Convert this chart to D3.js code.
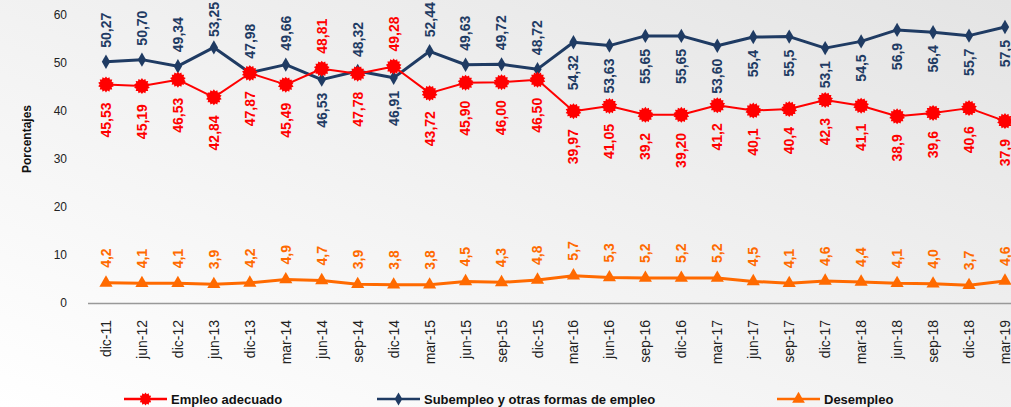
<!DOCTYPE html>
<html lang="es">
<head>
	<meta charset="UTF-8">
	<title>Empleo adecuado, subempleo y desempleo</title>
	<script src="https://d3js.org/d3.v7.min.js"></script>
	<style>
		body { margin: 0; }
		svg { display: block; }
		.tick text { font-family: "Liberation Sans Narrow", "Liberation Sans", Arial, sans-serif; fill: #222; }
		.lbl { font-family: "Liberation Sans Narrow", "Liberation Sans", Arial, sans-serif; font-weight: bold; font-size: 14px; }
		.leg { font-family: "Liberation Sans Narrow", "Liberation Sans", Arial, sans-serif; font-weight: bold; font-size: 13px; fill: #111; }
	</style>
</head>
<body>
<script>
	var periods = ["dic-11", "jun-12", "dic-12", "jun-13", "dic-13", "mar-14", "jun-14", "sep-14", "dic-14",
		"mar-15", "jun-15", "sep-15", "dic-15", "mar-16", "jun-16", "sep-16", "dic-16", "mar-17",
		"jun-17", "sep-17", "dic-17", "mar-18", "jun-18", "sep-18", "dic-18", "mar-19"];

	var adecuado = [45.53, 45.19, 46.53, 42.84, 47.87, 45.49, 48.81, 47.78, 49.28, 43.72, 45.90, 46.00, 46.50,
		39.97, 41.05, 39.2, 39.20, 41.2, 40.1, 40.4, 42.3, 41.1, 38.9, 39.6, 40.6, 37.9];
	var adecuadoTxt = ["45,53", "45,19", "46,53", "42,84", "47,87", "45,49", "48,81", "47,78", "49,28", "43,72",
		"45,90", "46,00", "46,50", "39,97", "41,05", "39,2", "39,20", "41,2", "40,1", "40,4", "42,3", "41,1",
		"38,9", "39,6", "40,6", "37,9"];

	var subempleo = [50.27, 50.70, 49.34, 53.25, 47.98, 49.66, 46.53, 48.32, 46.91, 52.44, 49.63, 49.72, 48.72,
		54.32, 53.63, 55.65, 55.65, 53.60, 55.4, 55.5, 53.1, 54.5, 56.9, 56.4, 55.7, 57.5];
	var subempleoTxt = ["50,27", "50,70", "49,34", "53,25", "47,98", "49,66", "46,53", "48,32", "46,91", "52,44",
		"49,63", "49,72", "48,72", "54,32", "53,63", "55,65", "55,65", "53,60", "55,4", "55,5", "53,1", "54,5",
		"56,9", "56,4", "55,7", "57,5"];

	var desempleo = [4.2, 4.1, 4.1, 3.9, 4.2, 4.9, 4.7, 3.9, 3.8, 3.8, 4.5, 4.3, 4.8, 5.7, 5.3, 5.2, 5.2, 5.2,
		4.5, 4.1, 4.6, 4.4, 4.1, 4.0, 3.7, 4.6];
	var desempleoTxt = ["4,2", "4,1", "4,1", "3,9", "4,2", "4,9", "4,7", "3,9", "3,8", "3,8", "4,5", "4,3", "4,8",
		"5,7", "5,3", "5,2", "5,2", "5,2", "4,5", "4,1", "4,6", "4,4", "4,1", "4,0", "3,7", "4,6"];

	var yTicks = [0, 10, 20, 30, 40, 50, 60];

	// which labels sit above (1) or below (-1) their point
	var subPos = [1, 1, 1, 1, 1, 1, -1, 1, -1, 1, 1, 1, 1, -1, -1, -1, -1, -1, -1, -1, -1, -1, -1, -1, -1, -1];
	var adePos = [-1, -1, -1, -1, -1, -1, 1, -1, 1, -1, -1, -1, -1, -1, -1, -1, -1, -1, -1, -1, -1, -1, -1, -1, -1, -1];

	var width = 1011,
		height = 407;

	var red = "#ff0000",
		navy = "#1f3b63",
		orange = "#ff6a00";

	var svg = d3.select("body").append("svg")
		.attr("width", width)
		.attr("height", height);

	// background gradient, white at lower left to grey at upper right
	var grad = svg.append("defs").append("linearGradient")
		.attr("id", "bg")
		.attr("x1", 0).attr("y1", 1).attr("x2", 1).attr("y2", 0);
	grad.append("stop").attr("offset", 0).attr("stop-color", "#ffffff");
	grad.append("stop").attr("offset", 1).attr("stop-color", "#e4e4e4");

	svg.append("rect")
		.attr("width", width)
		.attr("height", height)
		.attr("fill", "url(#bg)");

	var x = d3.scaleBand()
		.domain(periods)
		.range([88, 88 + 26 * 35.96])
		.padding(0);

	var y = d3.scaleLinear()
		.domain([0, 60])
		.range([303, 15]);

	function cx(i) {
		return x(periods[i]) + x.bandwidth() / 2;
	}

	// y axis (labels only)
	var yAxis = svg.append("g")
		.attr("transform", "translate(67,0)")
		.call(d3.axisLeft(y).tickValues(yTicks).tickSize(0).tickPadding(0));
	yAxis.select(".domain").remove();
	yAxis.selectAll("text").style("font-size", "12px");

	svg.append("text")
		.attr("class", "leg")
		.attr("transform", "translate(31,139) rotate(-90)")
		.attr("text-anchor", "middle")
		.style("font-size", "12px")
		.text("Porcentajes");

	// x axis
	var xAxis = svg.append("g")
		.attr("transform", "translate(0,303)")
		.call(d3.axisBottom(x).tickSize(0));
	xAxis.select(".domain")
		.attr("stroke", "#999")
		.attr("stroke-width", 1.5)
		.attr("d", "M88,0.5H" + width);
	xAxis.selectAll("text")
		.style("font-size", "14px")
		.attr("text-anchor", "end")
		.attr("dy", null)
		.attr("y", 0)
		.attr("transform", "translate(5,17) rotate(-90)");

	// spiky round marker for "Empleo adecuado"
	function starburst(r1, r2, n) {
		var pts = [];
		for (var k = 0; k < n * 2; k++) {
			var a = Math.PI * k / n;
			var r = k % 2 ? r2 : r1;
			pts.push([Math.sin(a) * r, -Math.cos(a) * r]);
		}
		return "M" + pts.join("L") + "Z";
	}

	var series = [
		{ vals: subempleo, txt: subempleoTxt, pos: subPos, color: navy, lw: 3,
			sym: d3.symbol().type(d3.symbolDiamond).size(60)(), up: 14, down: 13 },
		{ vals: adecuado, txt: adecuadoTxt, pos: adePos, color: red, lw: 2,
			sym: starburst(8, 6.3, 14), up: 15, down: 18 },
		{ vals: desempleo, txt: desempleoTxt, pos: desempleo.map(function () { return 1; }), color: orange, lw: 3,
			sym: d3.symbol().type(d3.symbolTriangle).size(75)(), up: 15, down: 15 }
	];

	var line = d3.line()
		.x(function (d, i) { return cx(i); })
		.y(function (d) { return y(d); });

	series.forEach(function (s) {
		var g = svg.append("g");
		g.append("path")
			.datum(s.vals)
			.attr("d", line)
			.attr("fill", "none")
			.attr("stroke", s.color)
			.attr("stroke-width", s.lw)
			.attr("stroke-linejoin", "round");

		g.selectAll(".mk")
			.data(s.vals)
			.enter().append("path")
			.attr("class", "mk")
			.attr("d", s.sym)
			.attr("fill", s.color)
			.attr("transform", function (d, i) {
				return "translate(" + cx(i) + "," + y(d) + ")";
			});

		g.selectAll(".lbl")
			.data(s.vals)
			.enter().append("text")
			.attr("class", "lbl")
			.attr("fill", s.color)
			.attr("text-anchor", function (d, i) { return s.pos[i] > 0 ? "start" : "end"; })
			.attr("dy", "0.35em")
			.text(function (d, i) { return s.txt[i]; })
			.attr("transform", function (d, i) {
				var yy = s.pos[i] > 0 ? y(d) - s.up : y(d) + s.down;
				// keep labels above the point inside the top edge
				if (s.pos[i] > 0) {
					var len = this.getComputedTextLength();
					yy = Math.max(yy, len + 2);
				}
				return "translate(" + cx(i) + "," + yy + ") rotate(-90)";
			});
	});

	// legend
	var legend = [
		{ name: "Empleo adecuado", color: red, sym: starburst(6.5, 5, 12), x0: 124 },
		{ name: "Subempleo y otras formas de empleo", color: navy, sym: d3.symbol().type(d3.symbolDiamond).size(50)(), x0: 377 },
		{ name: "Desempleo", color: orange, sym: d3.symbol().type(d3.symbolTriangle).size(70)(), x0: 777 }
	];

	var lg = svg.selectAll(".lg")
		.data(legend)
		.enter().append("g")
		.attr("transform", function (d) { return "translate(" + d.x0 + ",399)"; });

	lg.append("line")
		.attr("x1", 0).attr("x2", 43)
		.attr("stroke", function (d) { return d.color; })
		.attr("stroke-width", 2.5);
	lg.append("path")
		.attr("d", function (d) { return d.sym; })
		.attr("transform", "translate(21.5,0)")
		.attr("fill", function (d) { return d.color; });
	lg.append("text")
		.attr("class", "leg")
		.attr("x", 47)
		.attr("dy", "0.35em")
		.text(function (d) { return d.name; });
</script>
</body>
</html>
